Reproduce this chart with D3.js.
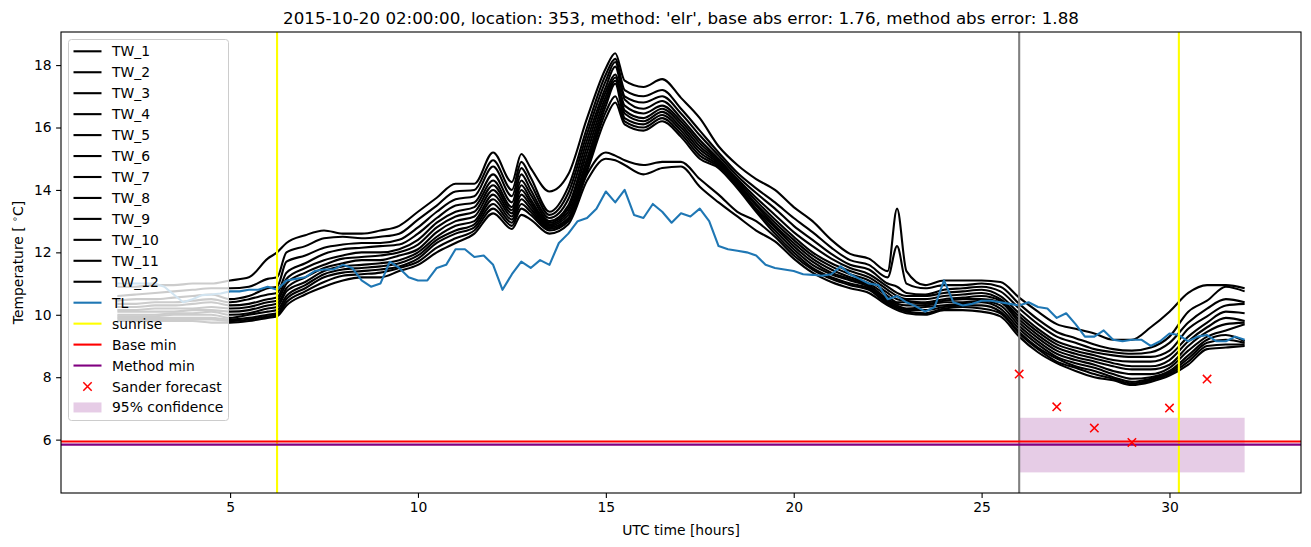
<!DOCTYPE html>
<html>
<head>
<meta charset="utf-8">
<script src="https://cdn.jsdelivr.net/npm/d3@7"></script>
<style>
  body { margin: 0; background: #fff; }
  text { font-family: "DejaVu Sans", sans-serif; }
</style>
</head>
<body>
<div id="chart"></div>
<script>
const twHours = [2, 2.5, 3, 3.5, 4, 4.5, 5, 5.5, 6, 6.25, 6.5, 7, 7.5, 8, 8.5, 9, 9.5, 10,
  10.5, 11, 11.5, 12, 12.5, 12.75, 13, 13.5, 14, 14.5, 15, 15.25, 15.5, 16, 16.5, 17, 17.5, 18,
  18.5, 19, 19.5, 20, 20.5, 21, 21.5, 22, 22.5, 22.75, 23, 23.5, 24, 24.5, 25, 25.5, 26, 26.5,
  27, 27.5, 28, 28.5, 29, 29.5, 30, 30.5, 31, 31.5, 32];

const TW_1 = [10.9, 10.9, 10.95, 10.95, 11.0, 11.0, 11.1, 11.2, 11.8, 12.0, 12.3, 12.55, 12.7, 12.6, 12.6, 12.7, 12.85, 13.3,
  13.75, 14.2, 14.2, 15.2, 14.25, 15.15, 14.7, 13.95, 14.5, 16.3, 17.9, 18.38, 17.5, 17.3, 17.55, 16.95, 16.3, 15.4,
  14.8, 14.35, 14.0, 13.45, 13.0, 12.4, 11.95, 11.8, 11.4, 13.4, 11.4, 10.95, 11.1, 11.1, 11.1, 11.05, 10.55, 10.1,
  9.7, 9.55, 9.4, 9.2, 9.2, 9.6, 10.1, 10.7, 10.95, 10.95, 10.85];
const TW_2 = [10.6, 10.65, 10.7, 10.75, 10.8, 10.85, 10.85, 10.9, 11.15, 11.2, 12.0, 12.2, 12.45, 12.5, 12.45, 12.5, 12.6, 13.05,
  13.5, 13.95, 14.0, 14.95, 14.0, 14.9, 14.4, 13.3, 14.1, 16.0, 17.7, 18.2, 17.2, 17.0, 17.2, 16.6, 15.9, 15.2,
  14.55, 14.05, 13.6, 13.1, 12.65, 12.15, 11.75, 11.6, 11.2, 12.2, 11.0, 10.85, 10.95, 10.95, 11.0, 10.9, 10.35, 9.85,
  9.45, 9.25, 9.05, 8.9, 8.85, 8.95, 9.3, 10.1, 10.45, 10.9, 10.75];
const TW_3 = [10.45, 10.5, 10.5, 10.55, 10.6, 10.65, 10.5, 10.6, 10.85, 10.9, 11.7, 11.9, 12.15, 12.25, 12.3, 12.3, 12.4, 12.8,
  13.3, 13.7, 13.8, 14.75, 13.8, 14.7, 14.2, 13.2, 13.9, 15.8, 17.5, 18.1, 17.0, 16.8, 17.0, 16.45, 15.75, 15.1,
  14.45, 13.9, 13.4, 12.85, 12.4, 11.95, 11.6, 11.45, 11.0, 10.9, 10.7, 10.65, 10.8, 10.85, 10.9, 10.75, 10.2, 9.7,
  9.3, 9.1, 8.9, 8.8, 8.75, 8.8, 9.1, 9.75, 10.2, 10.5, 10.4];
const TW_4 = [10.35, 10.35, 10.4, 10.4, 10.45, 10.5, 10.4, 10.5, 10.65, 10.7, 11.35, 11.65, 11.95, 12.1, 12.15, 12.2, 12.25, 12.6,
  13.1, 13.5, 13.6, 14.5, 13.6, 14.5, 14.0, 13.1, 13.7, 15.6, 17.3, 17.95, 16.9, 16.6, 16.85, 16.3, 15.6, 15.0,
  14.35, 13.75, 13.2, 12.65, 12.2, 11.8, 11.5, 11.3, 10.9, 10.7, 10.6, 10.6, 10.7, 10.75, 10.8, 10.6, 10.05, 9.55,
  9.15, 8.95, 8.8, 8.7, 8.65, 8.65, 8.85, 9.55, 9.95, 10.3, 10.35];
const TW_5 = [10.25, 10.25, 10.3, 10.3, 10.35, 10.4, 10.3, 10.35, 10.5, 10.55, 11.15, 11.5, 11.75, 11.9, 12.0, 12.0, 12.1, 12.4,
  12.95, 13.3, 13.45, 14.3, 13.45, 14.3, 13.85, 13.0, 13.5, 15.4, 17.15, 17.7, 16.7, 16.45, 16.7, 16.2, 15.5, 14.95,
  14.3, 13.65, 13.05, 12.5, 12.0, 11.65, 11.4, 11.2, 10.8, 10.6, 10.5, 10.5, 10.6, 10.65, 10.7, 10.5, 9.95, 9.45,
  9.05, 8.85, 8.7, 8.55, 8.5, 8.5, 8.7, 9.3, 9.75, 10.1, 10.05];
const TW_6 = [10.15, 10.15, 10.2, 10.2, 10.2, 10.25, 10.2, 10.25, 10.4, 10.45, 11.0, 11.35, 11.6, 11.8, 11.85, 11.9, 12.0, 12.25,
  12.8, 13.15, 13.3, 14.15, 13.35, 14.15, 13.7, 12.95, 13.4, 15.2, 17.0, 17.6, 16.55, 16.3, 16.6, 16.1, 15.4, 14.9,
  14.25, 13.55, 12.95, 12.4, 11.9, 11.55, 11.3, 11.1, 10.7, 10.5, 10.45, 10.4, 10.5, 10.55, 10.6, 10.45, 9.85, 9.35,
  8.95, 8.75, 8.6, 8.45, 8.35, 8.35, 8.55, 9.15, 9.6, 9.9, 9.8];
const TW_7 = [10.1, 10.1, 10.1, 10.1, 10.15, 10.15, 10.1, 10.15, 10.3, 10.35, 10.85, 11.2, 11.5, 11.65, 11.75, 11.75, 11.9, 12.1,
  12.65, 13.0, 13.15, 14.0, 13.25, 14.0, 13.6, 12.9, 13.3, 15.0, 16.85, 17.5, 16.45, 16.2, 16.5, 16.0, 15.3, 14.85,
  14.2, 13.5, 12.85, 12.3, 11.8, 11.45, 11.2, 11.0, 10.6, 10.4, 10.4, 10.35, 10.45, 10.5, 10.5, 10.4, 9.75, 9.25,
  8.85, 8.65, 8.5, 8.35, 8.25, 8.25, 8.4, 9.0, 9.45, 9.7, 9.75];
const TW_8 = [10.0, 10.0, 10.0, 10.05, 10.05, 10.1, 10.0, 10.05, 10.2, 10.25, 10.75, 11.05, 11.4, 11.55, 11.6, 11.65, 11.75, 12.0,
  12.5, 12.85, 13.0, 13.85, 13.15, 13.85, 13.5, 12.85, 13.2, 14.85, 16.7, 17.4, 16.3, 16.1, 16.4, 15.9, 15.2, 14.8,
  14.15, 13.4, 12.8, 12.2, 11.7, 11.35, 11.15, 10.95, 10.5, 10.35, 10.3, 10.3, 10.4, 10.4, 10.45, 10.3, 9.65, 9.15,
  8.75, 8.55, 8.4, 8.2, 8.1, 8.1, 8.3, 8.85, 9.3, 9.5, 9.7];
const TW_9 = [9.95, 9.95, 9.95, 10.0, 10.0, 10.0, 9.9, 10.0, 10.1, 10.15, 10.6, 10.95, 11.3, 11.45, 11.5, 11.55, 11.65, 11.9,
  12.4, 12.7, 12.9, 13.7, 13.05, 13.7, 13.4, 12.8, 13.1, 14.7, 16.5, 17.0, 16.2, 16.0, 16.3, 15.8, 15.1, 14.75,
  14.1, 13.35, 12.7, 12.1, 11.6, 11.3, 11.1, 10.9, 10.45, 10.3, 10.2, 10.25, 10.3, 10.35, 10.4, 10.2, 9.55, 9.05,
  8.65, 8.45, 8.3, 8.1, 7.95, 8.0, 8.2, 8.7, 9.2, 9.35, 9.15];
const TW_10 = [9.9, 9.9, 9.9, 9.9, 9.9, 9.9, 9.85, 9.9, 10.0, 10.05, 10.5, 10.85, 11.2, 11.35, 11.4, 11.45, 11.55, 11.8,
  12.3, 12.6, 12.8, 13.55, 12.95, 13.55, 13.3, 12.75, 13.05, 14.6, 16.3, 16.8, 16.1, 15.9, 16.2, 15.7, 15.0, 14.7,
  14.05, 13.3, 12.6, 12.0, 11.5, 11.2, 11.0, 10.85, 10.4, 10.25, 10.15, 10.15, 10.25, 10.3, 10.3, 10.1, 9.45, 8.95,
  8.6, 8.35, 8.2, 8.0, 7.85, 7.95, 8.15, 8.6, 9.1, 9.2, 9.1];
const TW_11 = [9.85, 9.85, 9.85, 9.85, 9.85, 9.85, 9.8, 9.85, 9.95, 10.0, 10.4, 10.75, 11.05, 11.25, 11.3, 11.35, 11.5, 11.7,
  12.15, 12.45, 12.7, 13.4, 12.85, 13.4, 13.2, 12.7, 13.0, 14.5, 15.2, 15.1, 14.95, 14.8, 14.9, 14.9, 14.35, 13.85,
  13.3, 13.0, 12.5, 11.9, 11.45, 11.15, 10.95, 10.8, 10.35, 10.2, 10.1, 10.05, 10.2, 10.25, 10.2, 10.05, 9.4, 8.9,
  8.5, 8.3, 8.1, 7.95, 7.8, 7.9, 8.1, 8.5, 9.0, 9.05, 9.05];
const TW_12 = [9.8, 9.8, 9.8, 9.8, 9.8, 9.75, 9.75, 9.8, 9.9, 9.95, 10.3, 10.65, 10.9, 11.1, 11.2, 11.2, 11.4, 11.6,
  12.0, 12.3, 12.6, 13.25, 12.75, 13.2, 13.05, 12.6, 12.9, 14.3, 15.0, 14.95, 14.8, 14.5, 14.7, 14.75, 14.1, 13.6,
  13.15, 12.7, 12.35, 11.8, 11.35, 11.05, 10.85, 10.7, 10.3, 10.15, 10.05, 10.0, 10.15, 10.15, 10.1, 9.95, 9.3, 8.8,
  8.45, 8.2, 8.0, 7.9, 7.75, 7.85, 8.05, 8.4, 8.9, 8.95, 9.0];

const twSeries = [TW_1, TW_2, TW_3, TW_4, TW_5, TW_6, TW_7, TW_8, TW_9, TW_10, TW_11, TW_12];

// TL, read every quarter hour from 2 to 32
const tlHours = d3.range(2, 32.001, 0.25);
const TL = [11.0, 11.0, 11.0, 11.0, 11.0, 10.9, 10.65, 10.4, 10.5, 10.63, 10.65, 10.68,
  10.75, 10.75, 10.8, 10.8, 10.9, 10.8, 11.1, 11.15, 11.2, 11.4, 11.45, 11.45,
  11.6, 11.5, 11.1, 10.9, 11.0, 11.7, 11.5, 11.2, 11.1, 11.1, 11.5, 11.6,
  12.1, 12.1, 11.85, 11.9, 11.6, 10.8, 11.3, 11.7, 11.5, 11.75, 11.6, 12.3,
  12.6, 13.0, 13.1, 13.4, 13.95, 13.6, 14.0, 13.2, 13.1, 13.55, 13.3, 12.95,
  13.25, 13.15, 13.4, 13.0, 12.2, 12.1, 12.05, 12.0, 11.9, 11.6, 11.5, 11.45,
  11.4, 11.3, 11.28, 11.25, 11.3, 11.55, 11.3, 11.15, 11.0, 10.95, 10.5, 10.6,
  10.4, 10.27, 10.1, 10.25, 11.1, 10.4, 10.3, 10.35, 10.45, 10.45, 10.4, 10.35,
  10.3, 10.4, 10.25, 10.2, 9.9, 10.05, 9.7, 9.3, 9.3, 9.5, 9.2, 9.15,
  9.2, 9.2, 9.0, 9.15, 9.4, 9.35, 9.15, 9.3, 9.35, 9.15, 9.15, 9.3, 9.2];

const sunriseHours = [6.25, 30.25];
const forecastStart = 26;
const baseMin = 5.94;
const methodMin = 5.84;
const sanderHours = [26, 27, 28, 29, 30, 31];
const sanderValues = [8.10, 7.05, 6.37, 5.91, 7.01, 7.94];
const confHours = [26, 32];
const confRange = [4.95, 6.70];

const xTicks = [5, 10, 15, 20, 25, 30];
const yTicks = [6, 8, 10, 12, 14, 16, 18];

const width = 1311, height = 547;
const margin = { top: 32, right: 10, bottom: 54, left: 61 };

const svg = d3.select("#chart").append("svg").attr("width", width).attr("height", height);

const x = d3.scaleLinear().domain([0.5, 33.5]).range([margin.left, width - margin.right]);
const y = d3.scaleLinear().domain([4.29, 19.06]).range([height - margin.bottom, margin.top]);

svg.append("clipPath").attr("id", "plot").append("rect")
  .attr("x", margin.left).attr("y", margin.top)
  .attr("width", width - margin.left - margin.right)
  .attr("height", height - margin.top - margin.bottom);

const plot = svg.append("g").attr("clip-path", "url(#plot)");

// confidence band
plot.append("rect")
  .attr("x", x(confHours[0])).attr("width", x(confHours[1]) - x(confHours[0]))
  .attr("y", y(confRange[1])).attr("height", y(confRange[0]) - y(confRange[1]))
  .attr("fill", "purple").attr("fill-opacity", 0.2);

const line = d3.line().x((d) => x(d[0])).y((d) => y(d[1]));
const smoothLine = d3.line().x((d) => x(d[0])).y((d) => y(d[1])).curve(d3.curveMonotoneX);

twSeries.forEach((s) => {
  plot.append("path")
    .attr("d", smoothLine(twHours.map((h, i) => [h, s[i]])))
    .attr("fill", "none").attr("stroke", "#000").attr("stroke-width", 2.1)
    .attr("stroke-linejoin", "round");
});

plot.append("path")
  .attr("d", line(tlHours.map((h, i) => [h, TL[i]])))
  .attr("fill", "none").attr("stroke", "#1f77b4").attr("stroke-width", 2.1)
  .attr("stroke-linejoin", "round");

sunriseHours.forEach((h) => {
  plot.append("line").attr("x1", x(h)).attr("x2", x(h))
    .attr("y1", margin.top).attr("y2", height - margin.bottom)
    .attr("stroke", "yellow").attr("stroke-width", 2.1);
});

plot.append("line").attr("x1", x(forecastStart)).attr("x2", x(forecastStart))
  .attr("y1", margin.top).attr("y2", height - margin.bottom)
  .attr("stroke", "gray").attr("stroke-width", 2.1);

[[baseMin, "red"], [methodMin, "purple"]].forEach(([v, c]) => {
  plot.append("line").attr("x1", margin.left).attr("x2", width - margin.right)
    .attr("y1", y(v)).attr("y2", y(v)).attr("stroke", c).attr("stroke-width", 2.1);
});

const cross = (g, cx, cy, r) => {
  g.append("path")
    .attr("d", `M${cx - r},${cy - r}L${cx + r},${cy + r}M${cx - r},${cy + r}L${cx + r},${cy - r}`)
    .attr("stroke", "red").attr("stroke-width", 1.5).attr("fill", "none");
};
sanderHours.forEach((h, i) => cross(plot, x(h), y(sanderValues[i]), 4.2));

// axes
const xAxis = svg.append("g").attr("transform", `translate(0,${height - margin.bottom})`)
  .call(d3.axisBottom(x).tickValues(xTicks).tickSize(4.9).tickPadding(4.5).tickFormat(d3.format("d")));
const yAxis = svg.append("g").attr("transform", `translate(${margin.left},0)`)
  .call(d3.axisLeft(y).tickValues(yTicks).tickSize(4.9).tickPadding(4.5).tickFormat(d3.format("d")));
[xAxis, yAxis].forEach((a) => {
  a.select(".domain").remove();
  a.selectAll("line").attr("stroke", "#000").attr("stroke-width", 1.1);
  a.selectAll("text").attr("font-size", "13.9px").attr("fill", "#000")
    .style("font-family", "DejaVu Sans, sans-serif");
});

svg.append("rect")
  .attr("x", margin.left).attr("y", margin.top)
  .attr("width", width - margin.left - margin.right)
  .attr("height", height - margin.top - margin.bottom)
  .attr("fill", "none").attr("stroke", "#000").attr("stroke-width", 1.1);

// labels
svg.append("text").attr("x", (margin.left + width - margin.right) / 2).attr("y", 24)
  .attr("text-anchor", "middle").attr("font-size", "16.7px")
  .text("2015-10-20 02:00:00, location: 353, method: 'elr', base abs error: 1.76, method abs error: 1.88");

svg.append("text").attr("x", (margin.left + width - margin.right) / 2).attr("y", 535)
  .attr("text-anchor", "middle").attr("font-size", "13.9px").text("UTC time [hours]");

const yl = svg.append("text")
  .attr("transform", `translate(23,${(margin.top + height - margin.bottom) / 2}) rotate(-90)`)
  .attr("text-anchor", "middle").attr("font-size", "13.9px");
yl.append("tspan").text("Temperature [ ");
yl.append("tspan").attr("font-size", "9.5px").attr("dy", -5).text("∘");
yl.append("tspan").attr("dy", 5).text("C]");

// legend
const legendLabels = ["TW_1", "TW_2", "TW_3", "TW_4", "TW_5", "TW_6", "TW_7", "TW_8", "TW_9", "TW_10",
  "TW_11", "TW_12", "TL", "sunrise", "Base min", "Method min", "Sander forecast", "95% confidence"];
const legendKinds = ["#000", "#000", "#000", "#000", "#000", "#000", "#000", "#000", "#000", "#000",
  "#000", "#000", "#1f77b4", "yellow", "red", "purple", "marker", "patch"];

const legend = svg.append("g");
legend.append("rect").attr("x", 68.5).attr("y", 39.5).attr("width", 160).attr("height", 381)
  .attr("rx", 3).attr("fill", "#fff").attr("fill-opacity", 0.8)
  .attr("stroke", "#cccccc").attr("stroke-width", 1);

legendLabels.forEach((lab, i) => {
  const cy = 51.3 + i * 20.95;
  const k = legendKinds[i];
  if (k === "marker") {
    cross(legend, 87.5, cy, 4.2);
  } else if (k === "patch") {
    legend.append("rect").attr("x", 73.5).attr("y", cy - 5).attr("width", 28).attr("height", 10)
      .attr("fill", "purple").attr("fill-opacity", 0.2);
  } else {
    legend.append("line").attr("x1", 73.5).attr("x2", 101.5).attr("y1", cy).attr("y2", cy)
      .attr("stroke", k).attr("stroke-width", 2.1);
  }
  legend.append("text").attr("x", 112).attr("y", cy).attr("dy", "0.36em")
    .attr("font-size", "13.9px").text(lab);
});
</script>
</body>
</html>
